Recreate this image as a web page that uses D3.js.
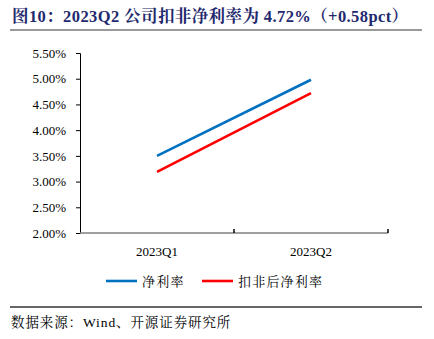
<!DOCTYPE html>
<html><head><meta charset="utf-8">
<script src="https://cdn.jsdelivr.net/npm/d3@7"></script>
<style>body{margin:0;background:#fff}svg{display:block}</style>
</head><body>
<script>
const categories = ["2023Q1", "2023Q2"];
const netMargin = [3.50, 4.98];
const deductedMargin = [3.19, 4.72];
const yTicks = [2.0, 2.5, 3.0, 3.5, 4.0, 4.5, 5.0, 5.5];
const seriesNames = ["净利率", "扣非后净利率"];
const seriesColors = ["#0070C0", "#FF0000"];

const W = 434, H = 339;
const FONT = "'Liberation Serif','Times New Roman','Noto Serif CJK SC','Noto Sans CJK SC',serif";
const svg = d3.select("body").append("svg").attr("width", W).attr("height", H);

// title
svg.append("text").attr("x", 12).attr("y", 22)
  .attr("font-family", FONT).attr("font-weight", "bold").attr("font-size", 16.5)
  .attr("letter-spacing", 0.4)
  .attr("fill", "#1F2A6E")
  .text("图10：2023Q2 公司扣非净利率为 4.72%（+0.58pct）");
svg.append("line").attr("x1", 10).attr("x2", 422).attr("y1", 30).attr("y2", 30)
  .attr("stroke", "#9a9a9a").attr("stroke-width", 2);

const x = d3.scaleBand().domain(categories).range([80, 388]);
const y = d3.scaleLinear().domain([2.0, 5.5]).range([233, 53]);

// y axis
const ya = svg.append("g").attr("transform", "translate(80,0)")
  .call(d3.axisLeft(y).tickValues(yTicks).tickSize(4).tickPadding(10)
    .tickFormat(d => d.toFixed(2) + "%"));
ya.select(".domain").attr("stroke", "#000");
ya.selectAll(".tick line").attr("stroke", "#000");
ya.selectAll("text").attr("font-family", FONT).attr("font-size", 13).attr("fill", "#000");

// x axis
const xa = svg.append("g").attr("transform", "translate(0,233)");
xa.append("line").attr("x1", 80).attr("x2", 388).attr("stroke", "#808080").attr("stroke-width", 1.5);
const bounds = [x.range()[0]].concat(categories.map(c => x(c) + x.bandwidth()));
xa.selectAll("line.tk").data(bounds.slice(1)).enter().append("line").attr("class", "tk")
  .attr("x1", d => d).attr("x2", d => d).attr("y1", -4).attr("y2", 0)
  .attr("stroke", "#000").attr("stroke-width", 1.5);
xa.selectAll("text").data(categories).enter().append("text")
  .attr("x", d => x(d) + x.bandwidth() / 2).attr("y", 23)
  .attr("text-anchor", "middle").attr("font-family", FONT).attr("font-size", 13).attr("fill", "#000")
  .text(d => d);

// lines
const line = d3.line().x((d, i) => x(categories[i]) + x.bandwidth() / 2).y(d => y(d));
[netMargin, deductedMargin].forEach((s, i) => {
  svg.append("path").datum(s).attr("d", line).attr("fill", "none")
    .attr("stroke", seriesColors[i]).attr("stroke-width", 2.6);
});

// legend
const legX = [106, 202];
seriesNames.forEach((n, i) => {
  svg.append("line").attr("x1", legX[i]).attr("x2", legX[i] + 31).attr("y1", 281).attr("y2", 281)
    .attr("stroke", seriesColors[i]).attr("stroke-width", 2.6);
  svg.append("text").attr("x", legX[i] + 36).attr("y", 286)
    .attr("font-family", FONT).attr("font-size", 13).attr("letter-spacing", 1.2)
    .attr("fill", "#000").text(n);
});

// footer
svg.append("line").attr("x1", 10).attr("x2", 422).attr("y1", 307).attr("y2", 307)
  .attr("stroke", "#333").attr("stroke-width", 1.5);
svg.append("text").attr("x", 11).attr("y", 327)
  .attr("font-family", FONT).attr("font-size", 13.5).attr("letter-spacing", 0.9)
  .attr("fill", "#000")
  .text("数据来源：Wind、开源证券研究所");
</script>
</body></html>
